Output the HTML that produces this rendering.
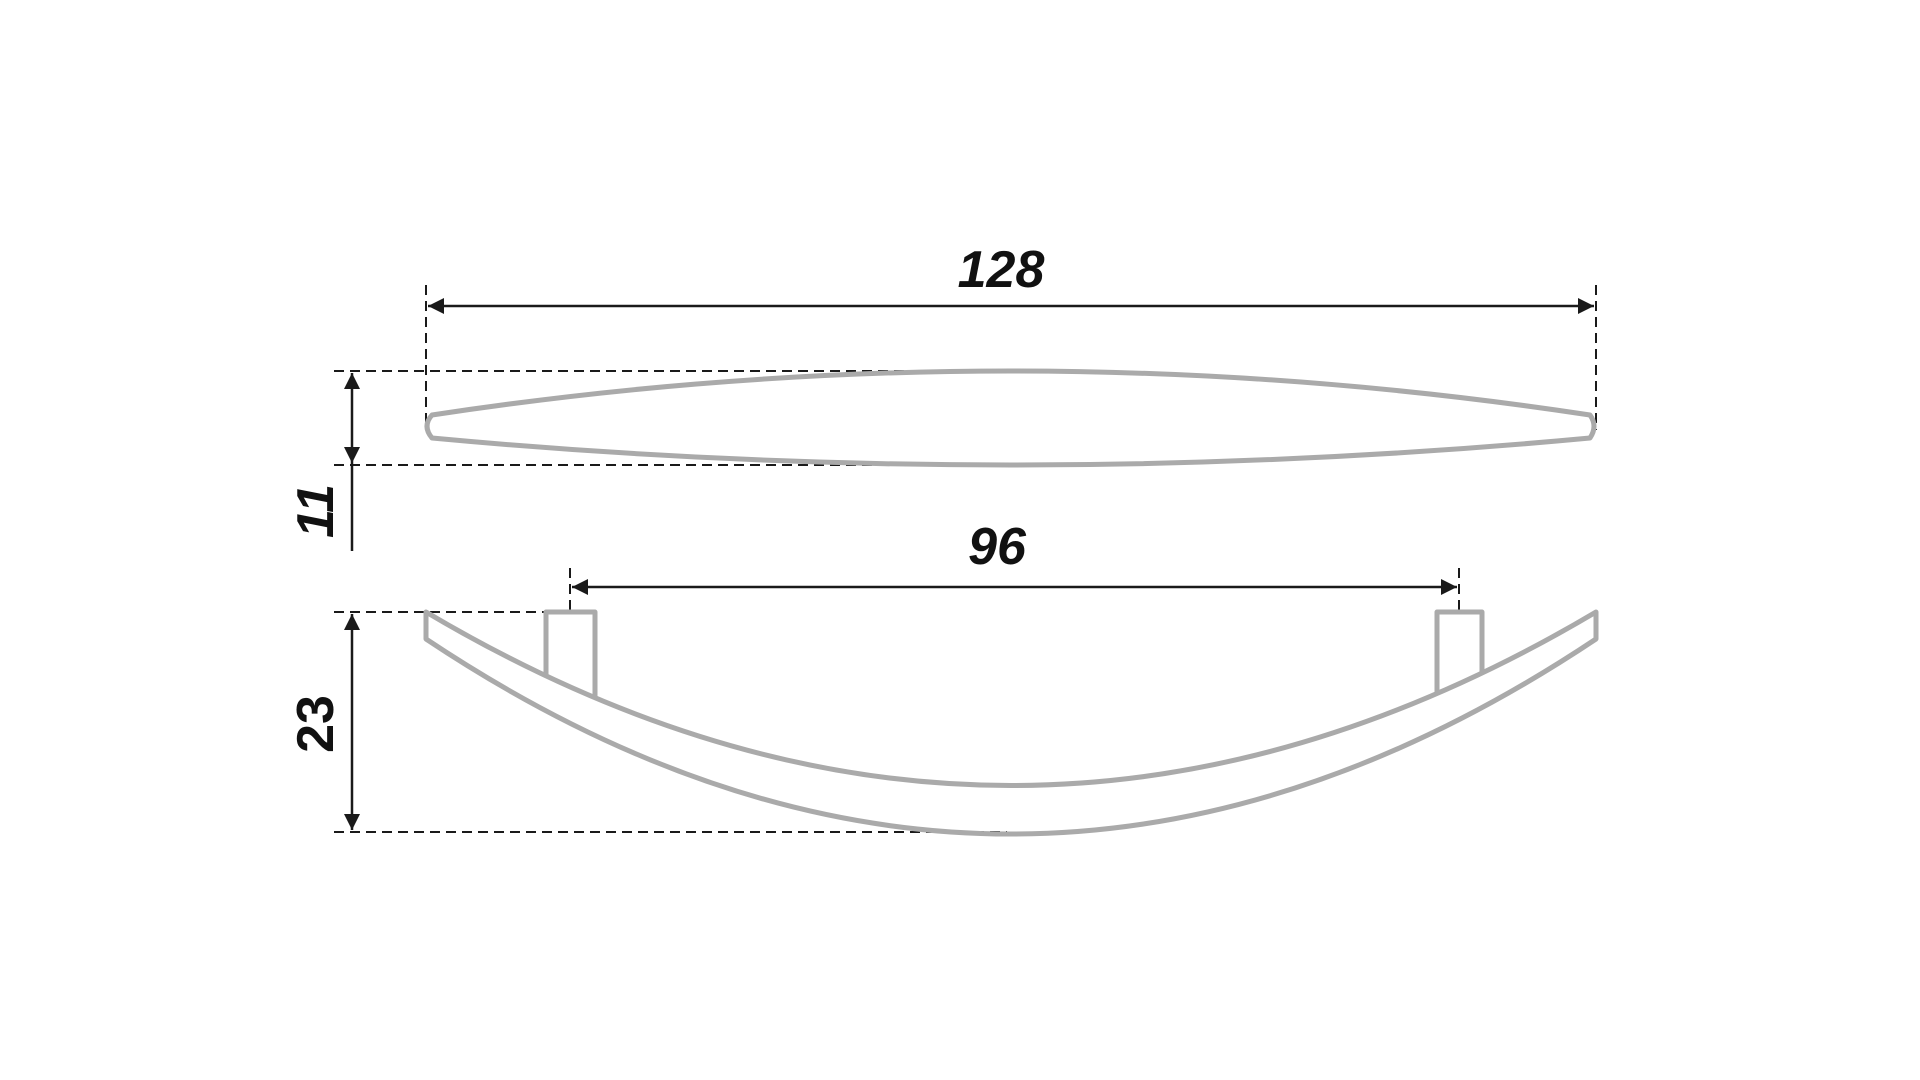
<!DOCTYPE html>
<html><head><meta charset="utf-8"><style>html,body{margin:0;padding:0;background:#fff;width:1920px;height:1080px;overflow:hidden}</style></head>
<body>
<svg width="1920" height="1080" viewBox="0 0 1920 1080" xmlns="http://www.w3.org/2000/svg">
<defs>
<marker id="a" viewBox="0 0 10 10" refX="10" refY="5" markerWidth="24" markerHeight="16" markerUnits="userSpaceOnUse" orient="auto-start-reverse"><path d="M0,0 L10,5 L0,10 z" fill="#1a1a1a"/></marker>
</defs>
<g stroke="#1a1a1a" stroke-width="2" stroke-dasharray="10,6" fill="none">
<line x1="426" y1="285" x2="426" y2="430"/>
<line x1="1596" y1="285" x2="1596" y2="430"/>
<line x1="334" y1="371" x2="1007" y2="371"/>
<line x1="334" y1="465" x2="970" y2="465"/>
<line x1="570" y1="568" x2="570" y2="611"/>
<line x1="1459" y1="568" x2="1459" y2="611"/>
<line x1="334" y1="612" x2="560" y2="612"/>
<line x1="334" y1="832" x2="1007" y2="832"/>
</g>
<g stroke="#1a1a1a" stroke-width="2.5" fill="none">
<line x1="428" y1="306" x2="1594" y2="306" marker-start="url(#a)" marker-end="url(#a)"/>
<line x1="352" y1="373" x2="352" y2="463" marker-start="url(#a)" marker-end="url(#a)"/>
<line x1="352" y1="463" x2="352" y2="551"/>
<line x1="572" y1="587" x2="1457" y2="587" marker-start="url(#a)" marker-end="url(#a)"/>
<line x1="352" y1="614" x2="352" y2="830" marker-start="url(#a)" marker-end="url(#a)"/>
</g>
<g stroke="#aaaaaa" stroke-width="5" fill="none" stroke-linejoin="round">
<path d="M432,415 Q1011,327 1590,415 Q1598,426 1590,438 Q1011,492 432,438 Q422,426 432,415 Z"/>
<path d="M426,612 Q1011,959 1596,612 L1596,639 Q1011,1029 426,639 Z"/>
<path d="M546,675 L546,612 L595,612 L595,696"/>
<path d="M1437,694 L1437,612 L1482,612 L1482,672"/>
</g>
<g font-family="Liberation Sans, sans-serif" font-weight="bold" fill="#111" font-size="52">
<text x="1001" y="287" text-anchor="middle" font-style="italic">128</text>
<text x="997" y="564" text-anchor="middle" font-style="italic">96</text>
<text transform="translate(333,511) rotate(-90)" text-anchor="middle" font-style="italic">11</text>
<text transform="translate(333,724) rotate(-90)" text-anchor="middle">23</text>
</g>
</svg>
</body></html>
